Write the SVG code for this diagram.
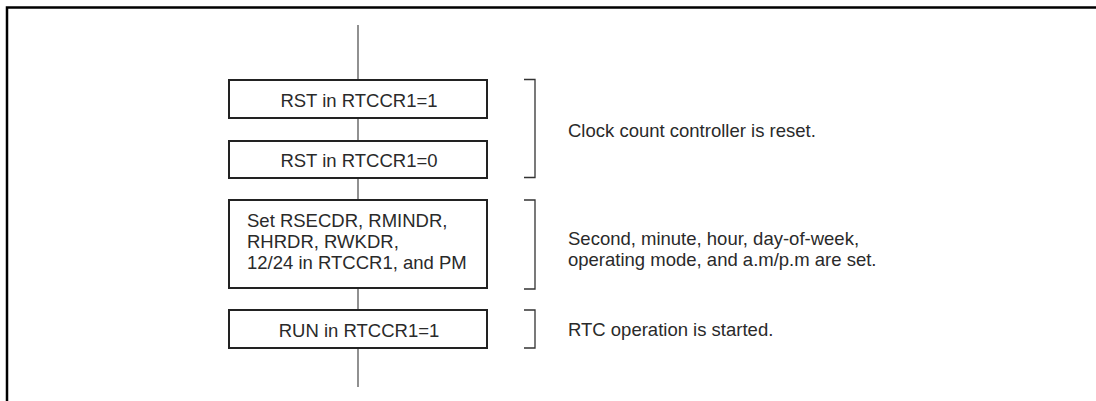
<svg xmlns="http://www.w3.org/2000/svg" width="1096" height="401" viewBox="0 0 1096 401">
<style>
.frame{fill:none;stroke:#000;stroke-width:2.5}
.box{fill:#fff;stroke:#222;stroke-width:2}
.conn{fill:none;stroke:#555;stroke-width:1.3}
.br{fill:none;stroke:#333;stroke-width:1.3}
text{font-family:"Liberation Sans",Arial,sans-serif;font-size:18.5px;fill:#2a2a2a}
.c{text-anchor:middle}
</style>
<rect width="1096" height="401" fill="#fff"/>
<path class="frame" d="M7,401 V7.5 H1096"/>
<g id="connectors">
<line class="conn" x1="358" y1="25" x2="358" y2="80"/>
<line class="conn" x1="358" y1="118" x2="358" y2="141"/>
<line class="conn" x1="358" y1="178" x2="358" y2="200"/>
<line class="conn" x1="358" y1="288" x2="358" y2="310"/>
<line class="conn" x1="358" y1="348" x2="358" y2="387"/>
</g>
<g id="box1">
<rect class="box" x="229" y="80" width="258" height="38"/>
<text class="c" x="359" y="106.5">RST in RTCCR1=1</text>
</g>
<g id="box2">
<rect class="box" x="229" y="141" width="258" height="37"/>
<text class="c" x="359" y="166.5">RST in RTCCR1=0</text>
</g>
<g id="box3">
<rect class="box" x="229" y="200" width="258" height="88"/>
<text x="247" y="227">Set RSECDR, RMINDR,</text>
<text x="247" y="248">RHRDR, RWKDR,</text>
<text x="247" y="269">12/24 in RTCCR1, and PM</text>
</g>
<g id="box4">
<rect class="box" x="229" y="310" width="258" height="38"/>
<text class="c" x="359" y="336.5">RUN in RTCCR1=1</text>
</g>
<g id="note1">
<path class="br" d="M524,79.5 H535 V177.5 H524"/>
<text x="568" y="136.5">Clock count controller is reset.</text>
</g>
<g id="note2">
<path class="br" d="M524,200 H535 V289 H524"/>
<text x="568" y="245">Second, minute, hour, day-of-week,</text>
<text x="568" y="266">operating mode, and a.m/p.m are set.</text>
</g>
<g id="note3">
<path class="br" d="M524,310 H535 V348 H524"/>
<text x="568" y="336">RTC operation is started.</text>
</g>
</svg>
